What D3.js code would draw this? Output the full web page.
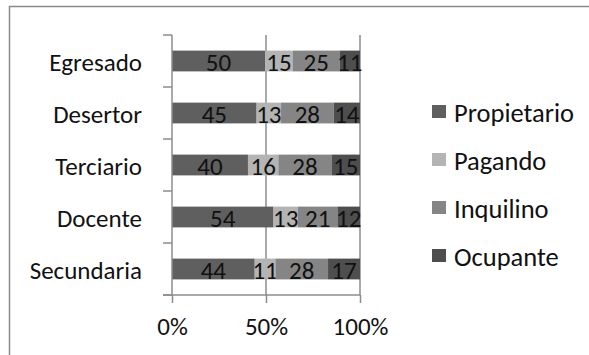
<!DOCTYPE html>
<html><head><meta charset="utf-8">
<script src="https://cdn.jsdelivr.net/npm/d3@7/dist/d3.min.js"></script>
<style>body{margin:0;background:#fff;}svg{display:block;font-family:Carlito,"Liberation Sans",Arial,sans-serif;}</style>
</head><body><svg id="c" width="589" height="355"></svg>
<script>
const categories = ["Egresado","Desertor","Terciario","Docente","Secundaria"];
const seriesNames = ["Propietario","Pagando","Inquilino","Ocupante"];
const propietario = [50,45,40,54,44];
const pagando = [15,13,16,13,11];
const inquilino = [25,28,28,21,28];
const ocupante = [11,14,15,12,17];
const tickLabels = ["0%","50%","100%"];
const colors = ["#5f5f5f","#b4b4b4","#858585","#4e4e4e"];

const svg = d3.select("#c");
svg.append("rect").attr("x",9.5).attr("y",6.5).attr("width",620).attr("height",400)
  .attr("fill","#fff").attr("stroke","#8a8a8a").attr("stroke-width",1.5);

const rows = categories.map((c,i)=>({cat:c, Propietario:propietario[i], Pagando:pagando[i], Inquilino:inquilino[i], Ocupante:ocupante[i]}));
const stack = d3.stack().keys(seriesNames).offset(d3.stackOffsetExpand);
const layers = stack(rows);

const x = d3.scaleLinear().domain([0,1]).range([172,360]);
const y = d3.scaleBand().domain(categories).range([35,295]).paddingInner(0.6).paddingOuter(0.3);
const gridColor = "#8c8c8c";

const g = svg.append("g");
g.selectAll("line.grid").data([0.5,1]).enter().append("line")
  .attr("x1",d=>x(d)).attr("x2",d=>x(d)).attr("y1",35).attr("y2",295)
  .attr("stroke",gridColor).attr("stroke-width",1.5);

layers.forEach((layer,li)=>{
  const lg = svg.append("g");
  lg.selectAll("rect").data(layer).enter().append("rect")
    .attr("x",d=>x(d[0])).attr("width",d=>x(d[1])-x(d[0]))
    .attr("y",d=>y(d.data.cat)).attr("height",y.bandwidth())
    .attr("fill",colors[li]);
  lg.selectAll("text").data(layer).enter().append("text")
    .attr("x",d=>(x(d[0])+x(d[1]))/2).attr("y",d=>y(d.data.cat)+y.bandwidth()/2+1)
    .attr("text-anchor","middle").attr("dominant-baseline","central")
    .attr("font-size",25).attr("fill","#111")
    .text(d=>d.data[seriesNames[li]]);
});

const ay = svg.append("g").attr("transform","translate(172,0)");
ay.append("line").attr("x1",0).attr("x2",0).attr("y1",35).attr("y2",295).attr("stroke",gridColor).attr("stroke-width",1.5);
const bounds = [35].concat(categories.map(c=>y(c)+y.bandwidth()/2+y.step()/2));
ay.selectAll("line.t").data(bounds).enter().append("line")
  .attr("x1",-9).attr("x2",0).attr("y1",d=>d).attr("y2",d=>d).attr("stroke",gridColor).attr("stroke-width",1.5);
ay.selectAll("text").data(categories).enter().append("text")
  .attr("x",-30).attr("y",d=>y(d)+y.bandwidth()/2+1).attr("text-anchor","end")
  .attr("dominant-baseline","central").attr("font-size",25).attr("fill","#111").text(d=>d);

const xAxis = d3.axisBottom(x).tickValues([0,0.5,1]).tickFormat((d,i)=>tickLabels[i]).tickSize(8).tickPadding(14);
const ax = svg.append("g").attr("transform","translate(0,295)").call(xAxis);
ax.attr("font-family",null);
ax.select(".domain").attr("stroke",gridColor).attr("stroke-width",1.5).attr("d","M163,0H360");
ax.selectAll(".tick line").attr("stroke",gridColor).attr("stroke-width",1.5);
ax.selectAll(".tick text").attr("font-size",25).attr("fill","#111");

const leg = svg.append("g");
seriesNames.forEach((s,i)=>{
  const cy = 112 + i*48;
  leg.append("rect").attr("x",432).attr("y",cy-7).attr("width",14).attr("height",13).attr("fill",colors[i]);
  leg.append("text").attr("x",454).attr("y",cy+1).attr("dominant-baseline","central")
    .attr("font-size",26.5).attr("fill","#111").text(s);
});
</script></body></html>
